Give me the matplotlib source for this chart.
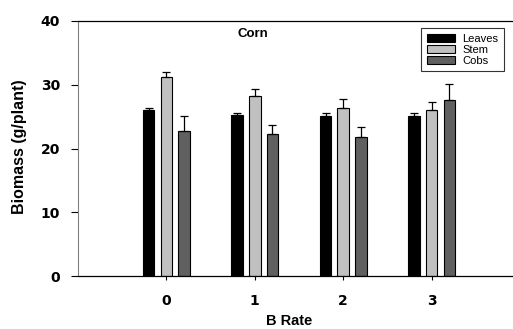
import numpy as np
import matplotlib
matplotlib.use("Agg")
import matplotlib.pyplot as plt

plt.rcParams['font.family'] = ['Liberation Sans', 'DejaVu Sans']

rates = ['0', '1', '2', '3']
leaves = [26.0, 25.3, 25.1, 25.1]
leaves_err = [0.3, 0.3, 0.4, 0.4]
stem = [31.2, 28.2, 26.3, 26.1]
stem_err = [0.8, 1.1, 1.5, 1.2]
cobs = [22.8, 22.3, 21.8, 27.6]
cobs_err = [2.3, 1.4, 1.6, 2.5]

fig = plt.figure(figsize=(5.13, 3.29), dpi=100)
# axes runs a little past the right border of the figure, like the original
ax = fig.add_axes([78 / 513, 1 - 276 / 329, 442 / 513, 255 / 329])

x = np.arange(len(rates))
w = 0.13
step = 0.2
series = [(leaves, leaves_err, 'black', 'Leaves'),
          (stem, stem_err, '#c0c0c0', 'Stem'),
          (cobs, cobs_err, '#606060', 'Cobs')]
for i, (vals, errs, col, lab) in enumerate(series):
    ax.bar(x + (i - 1) * step, vals, w, color=col, edgecolor='black',
           linewidth=0.8, label=lab, zorder=2)
    ax.errorbar(x + (i - 1) * step, vals, yerr=[np.zeros(len(errs)), errs],
                fmt='none', ecolor='black', elinewidth=0.9, capsize=3,
                capthick=0.9, zorder=3)

ax.set_xlim(-1, 4)
ax.set_ylim(0, 40)
ax.set_xticks(x)
ax.set_xticklabels(rates)
ax.set_yticks([0, 10, 20, 30, 40])
for lbl in ax.get_xticklabels() + ax.get_yticklabels():
    lbl.set_fontweight('bold')
    lbl.set_fontsize(10)
    lbl.set_family(['DejaVu Sans'])
ax.tick_params(axis='y', direction='out', length=5, width=0.8, pad=8)
ax.tick_params(axis='x', direction='out', length=3, width=0.8, pad=10)

ax.spines['right'].set_visible(False)
ax.spines['left'].set_color('#808080')
ax.spines['top'].set_linewidth(0.9)
ax.spines['bottom'].set_linewidth(0.9)

ax.set_ylabel('Biomass (g/plant)', fontweight='bold', fontsize=11.5)
ax.yaxis.set_label_coords(-58 / 442, (276 - 147) / 255)
ax.set_xlabel('B Rate', fontweight='bold', fontsize=10.5)
ax.xaxis.set_label_coords((289 - 78) / 442, -(321 - 276) / 255)
ax.xaxis.label.set_va('center')
ax.yaxis.label.set_va('center')
ax.text(0.98, 37.9, 'Corn', ha='center', va='center', fontweight='bold',
        fontsize=9.5)

leg = ax.legend(loc='upper left', bbox_to_anchor=((421 - 78) / 442, 1 - 7 / 255),
                fontsize=8, frameon=True, fancybox=False, edgecolor='black',
                handlelength=2.6, handleheight=0.7, borderpad=0.5,
                labelspacing=0.1, handletextpad=0.6, borderaxespad=0)
leg.get_frame().set_linewidth(0.8)

fig.savefig('out.png', dpi=100)
